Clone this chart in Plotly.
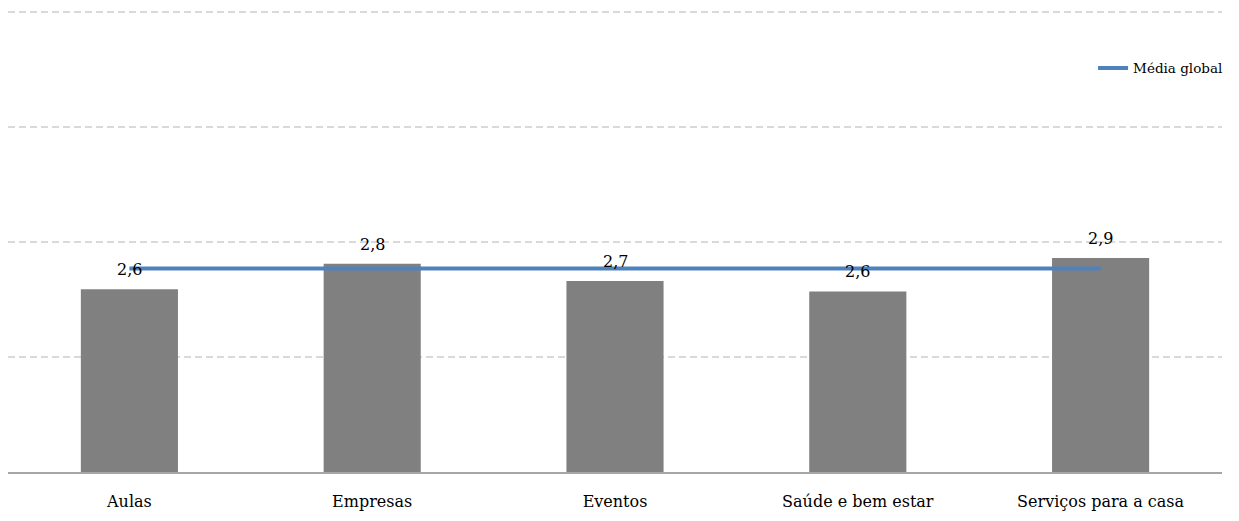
import plotly.graph_objects as go

categories = ["Aulas", "Empresas", "Eventos", "Saúde e bem estar", "Serviços para a casa"]
values = [2.59, 2.81, 2.66, 2.57, 2.86]
media_global = [2.77, 2.77, 2.77, 2.77, 2.77]
y_range = [1, 5.035]

FONT = "DejaVu Serif"

fig = go.Figure()
fig.add_trace(go.Bar(
    x=categories, y=values,
    marker=dict(color="#808080", line=dict(width=0)),
    showlegend=False, hoverinfo="skip",
))
fig.add_trace(go.Scatter(
    x=categories, y=media_global, mode="lines",
    line=dict(color="#4F81BD", width=4),
    name="Média global",
))

for c, v in zip(categories, values):
    fig.add_annotation(
        x=c, y=v, text=f"{v:.1f}".replace(".", ","),
        showarrow=False, yanchor="bottom", yshift=8,
        font=dict(family=FONT, size=16, color="#000000"),
    )

# page body has an 8px margin; figure is sized/offset to compensate
fig.update_layout(
    width=1231, height=513,
    margin=dict(l=0, r=17, t=0, b=49),
    plot_bgcolor="white", paper_bgcolor="white",
    bargap=0.6,
    font=dict(family=FONT, size=16, color="#000000"),
    legend=dict(x=1.005, y=0.87, xanchor="right", yanchor="middle",
                font=dict(family=FONT, size=13.5, color="#000000"),
                bgcolor="rgba(0,0,0,0)"),
    xaxis=dict(showline=True, linecolor="#a6a6a6", linewidth=1.5,
               ticks="", tickfont=dict(family=FONT, size=16, color="#000000"),
               ticklabelstandoff=14, showgrid=False),
    yaxis=dict(range=y_range, tick0=1, dtick=1, showticklabels=False,
               showgrid=True, gridcolor="#d9d9d9", griddash="7px,4px", gridwidth=1.5,
               zeroline=False, showline=False, ticks=""),
)

fig.write_html("out.html")
